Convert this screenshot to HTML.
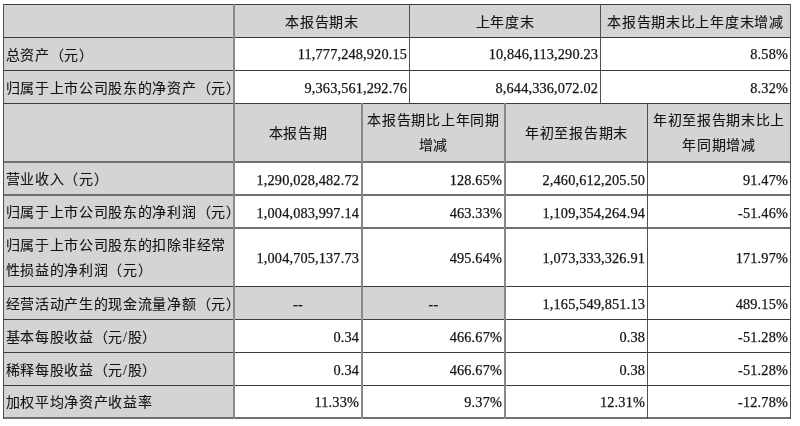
<!DOCTYPE html>
<html lang="zh-CN"><head><meta charset="utf-8">
<style>
html,body{margin:0;padding:0;background:#fff;}
body{width:800px;height:426px;position:relative;overflow:hidden;filter:blur(0.3px);font-family:"Liberation Serif",serif;font-size:14px;color:#141414;}
.r{position:absolute;}
.c{position:absolute;display:flex;align-items:center;box-sizing:border-box;line-height:27px;white-space:nowrap;}
.c span{position:relative;}
.zh{-webkit-text-stroke:0.1px #141414;font-size:14px;letter-spacing:0.7px;}
.zh span{top:1px;}
.ml{line-height:25.5px;}
.ml span{top:0.5px;}
.num{-webkit-text-stroke:0.25px #141414;font-size:14.3px;letter-spacing:0.15px;}
.num span{top:0px;}
.dash span{top:1.5px;}
</style></head><body>
<div class="r" style="left:3px;top:4px;width:788px;height:34px;background:#d4d4d4"></div>
<div class="r" style="left:3px;top:38px;width:232px;height:66px;background:#d4d4d4"></div>
<div class="r" style="left:3px;top:104px;width:788px;height:58px;background:#d4d4d4"></div>
<div class="r" style="left:3px;top:162px;width:232px;height:257px;background:#d4d4d4"></div>
<div class="r" style="left:235px;top:287px;width:270px;height:33px;background:#d4d4d4"></div>
<div class="r" style="left:3px;top:4px;width:788px;height:1px;background:#3c3c3c"></div>
<div class="r" style="left:3px;top:37px;width:788px;height:1px;background:#3c3c3c"></div>
<div class="r" style="left:3px;top:70px;width:788px;height:1px;background:#3c3c3c"></div>
<div class="r" style="left:3px;top:103px;width:788px;height:1px;background:#3c3c3c"></div>
<div class="r" style="left:3px;top:161px;width:788px;height:2px;background:#707070"></div>
<div class="r" style="left:3px;top:194px;width:788px;height:2px;background:#707070"></div>
<div class="r" style="left:3px;top:227px;width:788px;height:2px;background:#707070"></div>
<div class="r" style="left:3px;top:286px;width:788px;height:1px;background:#3c3c3c"></div>
<div class="r" style="left:3px;top:319px;width:788px;height:1px;background:#3c3c3c"></div>
<div class="r" style="left:3px;top:352px;width:788px;height:1px;background:#3c3c3c"></div>
<div class="r" style="left:3px;top:385px;width:788px;height:1px;background:#3c3c3c"></div>
<div class="r" style="left:3px;top:417px;width:788px;height:2px;background:#707070"></div>
<div class="r" style="left:3px;top:4px;width:1px;height:100px;background:#505050"></div>
<div class="r" style="left:233px;top:4px;width:2px;height:100px;background:#888888"></div>
<div class="r" style="left:409px;top:4px;width:1px;height:100px;background:#505050"></div>
<div class="r" style="left:600px;top:4px;width:1px;height:100px;background:#505050"></div>
<div class="r" style="left:790px;top:4px;width:1px;height:100px;background:#505050"></div>
<div class="r" style="left:3px;top:103px;width:1px;height:316px;background:#505050"></div>
<div class="r" style="left:233px;top:103px;width:2px;height:316px;background:#888888"></div>
<div class="r" style="left:361px;top:103px;width:2px;height:316px;background:#888888"></div>
<div class="r" style="left:504px;top:103px;width:2px;height:316px;background:#888888"></div>
<div class="r" style="left:647px;top:103px;width:1px;height:316px;background:#505050"></div>
<div class="r" style="left:790px;top:103px;width:1px;height:316px;background:#505050"></div>
<div class="c zh" style="left:235px;top:5px;width:174px;height:32px;justify-content:center;text-align:center;padding-left:0px;padding-right:0px"><span>本报告期末</span></div>
<div class="c zh" style="left:410px;top:5px;width:190px;height:32px;justify-content:center;text-align:center;padding-left:0px;padding-right:0px"><span>上年度末</span></div>
<div class="c zh" style="left:601px;top:5px;width:189px;height:32px;justify-content:center;text-align:center;padding-left:0px;padding-right:0px"><span>本报告期末比上年度末增减</span></div>
<div class="c zh" style="left:4px;top:38px;width:229px;height:32px;justify-content:flex-start;text-align:left;padding-left:1.5px;padding-right:1.5px"><span>总资产（元）</span></div>
<div class="c num" style="left:235px;top:38px;width:174px;height:32px;justify-content:flex-end;text-align:right;padding-left:2.0px;padding-right:2.0px"><span style="top:0.5px">11,777,248,920.15</span></div>
<div class="c num" style="left:410px;top:38px;width:190px;height:32px;justify-content:flex-end;text-align:right;padding-left:2.0px;padding-right:2.0px"><span style="top:0.5px">10,846,113,290.23</span></div>
<div class="c num" style="left:601px;top:38px;width:189px;height:32px;justify-content:flex-end;text-align:right;padding-left:2.0px;padding-right:2.0px"><span style="top:0.5px">8.58%</span></div>
<div class="c zh" style="left:4px;top:71px;width:229px;height:32px;justify-content:flex-start;text-align:left;padding-left:1.5px;padding-right:1.5px"><span>归属于上市公司股东的净资产（元）</span></div>
<div class="c num" style="left:235px;top:71px;width:174px;height:32px;justify-content:flex-end;text-align:right;padding-left:2.0px;padding-right:2.0px"><span style="top:1px">9,363,561,292.76</span></div>
<div class="c num" style="left:410px;top:71px;width:190px;height:32px;justify-content:flex-end;text-align:right;padding-left:2.0px;padding-right:2.0px"><span style="top:1px">8,644,336,072.02</span></div>
<div class="c num" style="left:601px;top:71px;width:189px;height:32px;justify-content:flex-end;text-align:right;padding-left:2.0px;padding-right:2.0px"><span style="top:1px">8.32%</span></div>
<div class="c zh" style="left:235px;top:104px;width:126px;height:57px;justify-content:center;text-align:center;padding-left:0px;padding-right:0px"><span>本报告期</span></div>
<div class="c zh ml" style="left:363px;top:104px;width:141px;height:57px;justify-content:center;text-align:center;padding-left:0px;padding-right:0px"><span>本报告期比上年同期<br>增减</span></div>
<div class="c zh" style="left:506px;top:104px;width:141px;height:57px;justify-content:center;text-align:center;padding-left:0px;padding-right:0px"><span>年初至报告期末</span></div>
<div class="c zh ml" style="left:648px;top:104px;width:142px;height:57px;justify-content:center;text-align:center;padding-left:0px;padding-right:0px"><span>年初至报告期末比上<br>年同期增减</span></div>
<div class="c zh" style="left:4px;top:163px;width:229px;height:31px;justify-content:flex-start;text-align:left;padding-left:1.5px;padding-right:1.5px"><span>营业收入（元）</span></div>
<div class="c num" style="left:235px;top:163px;width:126px;height:31px;justify-content:flex-end;text-align:right;padding-left:2.0px;padding-right:2.0px"><span style="top:2px">1,290,028,482.72</span></div>
<div class="c num" style="left:363px;top:163px;width:141px;height:31px;justify-content:flex-end;text-align:right;padding-left:2.0px;padding-right:2.0px"><span style="top:2px">128.65%</span></div>
<div class="c num" style="left:506px;top:163px;width:141px;height:31px;justify-content:flex-end;text-align:right;padding-left:2.0px;padding-right:2.0px"><span style="top:2px">2,460,612,205.50</span></div>
<div class="c num" style="left:648px;top:163px;width:142px;height:31px;justify-content:flex-end;text-align:right;padding-left:2.0px;padding-right:2.0px"><span style="top:2px">91.47%</span></div>
<div class="c zh" style="left:4px;top:196px;width:229px;height:31px;justify-content:flex-start;text-align:left;padding-left:1.5px;padding-right:1.5px"><span>归属于上市公司股东的净利润（元）</span></div>
<div class="c num" style="left:235px;top:196px;width:126px;height:31px;justify-content:flex-end;text-align:right;padding-left:2.0px;padding-right:2.0px"><span style="top:2px">1,004,083,997.14</span></div>
<div class="c num" style="left:363px;top:196px;width:141px;height:31px;justify-content:flex-end;text-align:right;padding-left:2.0px;padding-right:2.0px"><span style="top:2px">463.33%</span></div>
<div class="c num" style="left:506px;top:196px;width:141px;height:31px;justify-content:flex-end;text-align:right;padding-left:2.0px;padding-right:2.0px"><span style="top:2px">1,109,354,264.94</span></div>
<div class="c num" style="left:648px;top:196px;width:142px;height:31px;justify-content:flex-end;text-align:right;padding-left:2.0px;padding-right:2.0px"><span style="top:2px">-51.46%</span></div>
<div class="c zh ml" style="left:4px;top:229px;width:229px;height:57px;justify-content:flex-start;text-align:left;padding-left:1.5px;padding-right:1.5px"><span>归属于上市公司股东的扣除非经常<br>性损益的净利润（元）</span></div>
<div class="c num" style="left:235px;top:229px;width:126px;height:57px;justify-content:flex-end;text-align:right;padding-left:2.0px;padding-right:2.0px"><span style="top:1px">1,004,705,137.73</span></div>
<div class="c num" style="left:363px;top:229px;width:141px;height:57px;justify-content:flex-end;text-align:right;padding-left:2.0px;padding-right:2.0px"><span style="top:1px">495.64%</span></div>
<div class="c num" style="left:506px;top:229px;width:141px;height:57px;justify-content:flex-end;text-align:right;padding-left:2.0px;padding-right:2.0px"><span style="top:1px">1,073,333,326.91</span></div>
<div class="c num" style="left:648px;top:229px;width:142px;height:57px;justify-content:flex-end;text-align:right;padding-left:2.0px;padding-right:2.0px"><span style="top:1px">171.97%</span></div>
<div class="c zh" style="left:4px;top:287px;width:229px;height:32px;justify-content:flex-start;text-align:left;padding-left:1.5px;padding-right:1.5px"><span>经营活动产生的现金流量净额（元）</span></div>
<div class="c num dash" style="left:235px;top:287px;width:126px;height:32px;justify-content:center;text-align:center;padding-left:0px;padding-right:0px"><span>--</span></div>
<div class="c num dash" style="left:363px;top:287px;width:141px;height:32px;justify-content:center;text-align:center;padding-left:0px;padding-right:0px"><span>--</span></div>
<div class="c num" style="left:506px;top:287px;width:141px;height:32px;justify-content:flex-end;text-align:right;padding-left:2.0px;padding-right:2.0px"><span style="top:1px">1,165,549,851.13</span></div>
<div class="c num" style="left:648px;top:287px;width:142px;height:32px;justify-content:flex-end;text-align:right;padding-left:2.0px;padding-right:2.0px"><span style="top:1px">489.15%</span></div>
<div class="c zh" style="left:4px;top:320px;width:229px;height:32px;justify-content:flex-start;text-align:left;padding-left:1.5px;padding-right:1.5px"><span>基本每股收益（元/股）</span></div>
<div class="c num" style="left:235px;top:320px;width:126px;height:32px;justify-content:flex-end;text-align:right;padding-left:2.0px;padding-right:2.0px"><span style="top:1px">0.34</span></div>
<div class="c num" style="left:363px;top:320px;width:141px;height:32px;justify-content:flex-end;text-align:right;padding-left:2.0px;padding-right:2.0px"><span style="top:1px">466.67%</span></div>
<div class="c num" style="left:506px;top:320px;width:141px;height:32px;justify-content:flex-end;text-align:right;padding-left:2.0px;padding-right:2.0px"><span style="top:1px">0.38</span></div>
<div class="c num" style="left:648px;top:320px;width:142px;height:32px;justify-content:flex-end;text-align:right;padding-left:2.0px;padding-right:2.0px"><span style="top:1px">-51.28%</span></div>
<div class="c zh" style="left:4px;top:353px;width:229px;height:32px;justify-content:flex-start;text-align:left;padding-left:1.5px;padding-right:1.5px"><span>稀释每股收益（元/股）</span></div>
<div class="c num" style="left:235px;top:353px;width:126px;height:32px;justify-content:flex-end;text-align:right;padding-left:2.0px;padding-right:2.0px"><span style="top:1px">0.34</span></div>
<div class="c num" style="left:363px;top:353px;width:141px;height:32px;justify-content:flex-end;text-align:right;padding-left:2.0px;padding-right:2.0px"><span style="top:1px">466.67%</span></div>
<div class="c num" style="left:506px;top:353px;width:141px;height:32px;justify-content:flex-end;text-align:right;padding-left:2.0px;padding-right:2.0px"><span style="top:1px">0.38</span></div>
<div class="c num" style="left:648px;top:353px;width:142px;height:32px;justify-content:flex-end;text-align:right;padding-left:2.0px;padding-right:2.0px"><span style="top:1px">-51.28%</span></div>
<div class="c zh" style="left:4px;top:386px;width:229px;height:31px;justify-content:flex-start;text-align:left;padding-left:1.5px;padding-right:1.5px"><span>加权平均净资产收益率</span></div>
<div class="c num" style="left:235px;top:386px;width:126px;height:31px;justify-content:flex-end;text-align:right;padding-left:2.0px;padding-right:2.0px"><span style="top:1px">11.33%</span></div>
<div class="c num" style="left:363px;top:386px;width:141px;height:31px;justify-content:flex-end;text-align:right;padding-left:2.0px;padding-right:2.0px"><span style="top:1px">9.37%</span></div>
<div class="c num" style="left:506px;top:386px;width:141px;height:31px;justify-content:flex-end;text-align:right;padding-left:2.0px;padding-right:2.0px"><span style="top:1px">12.31%</span></div>
<div class="c num" style="left:648px;top:386px;width:142px;height:31px;justify-content:flex-end;text-align:right;padding-left:2.0px;padding-right:2.0px"><span style="top:1px">-12.78%</span></div>
</body></html>
